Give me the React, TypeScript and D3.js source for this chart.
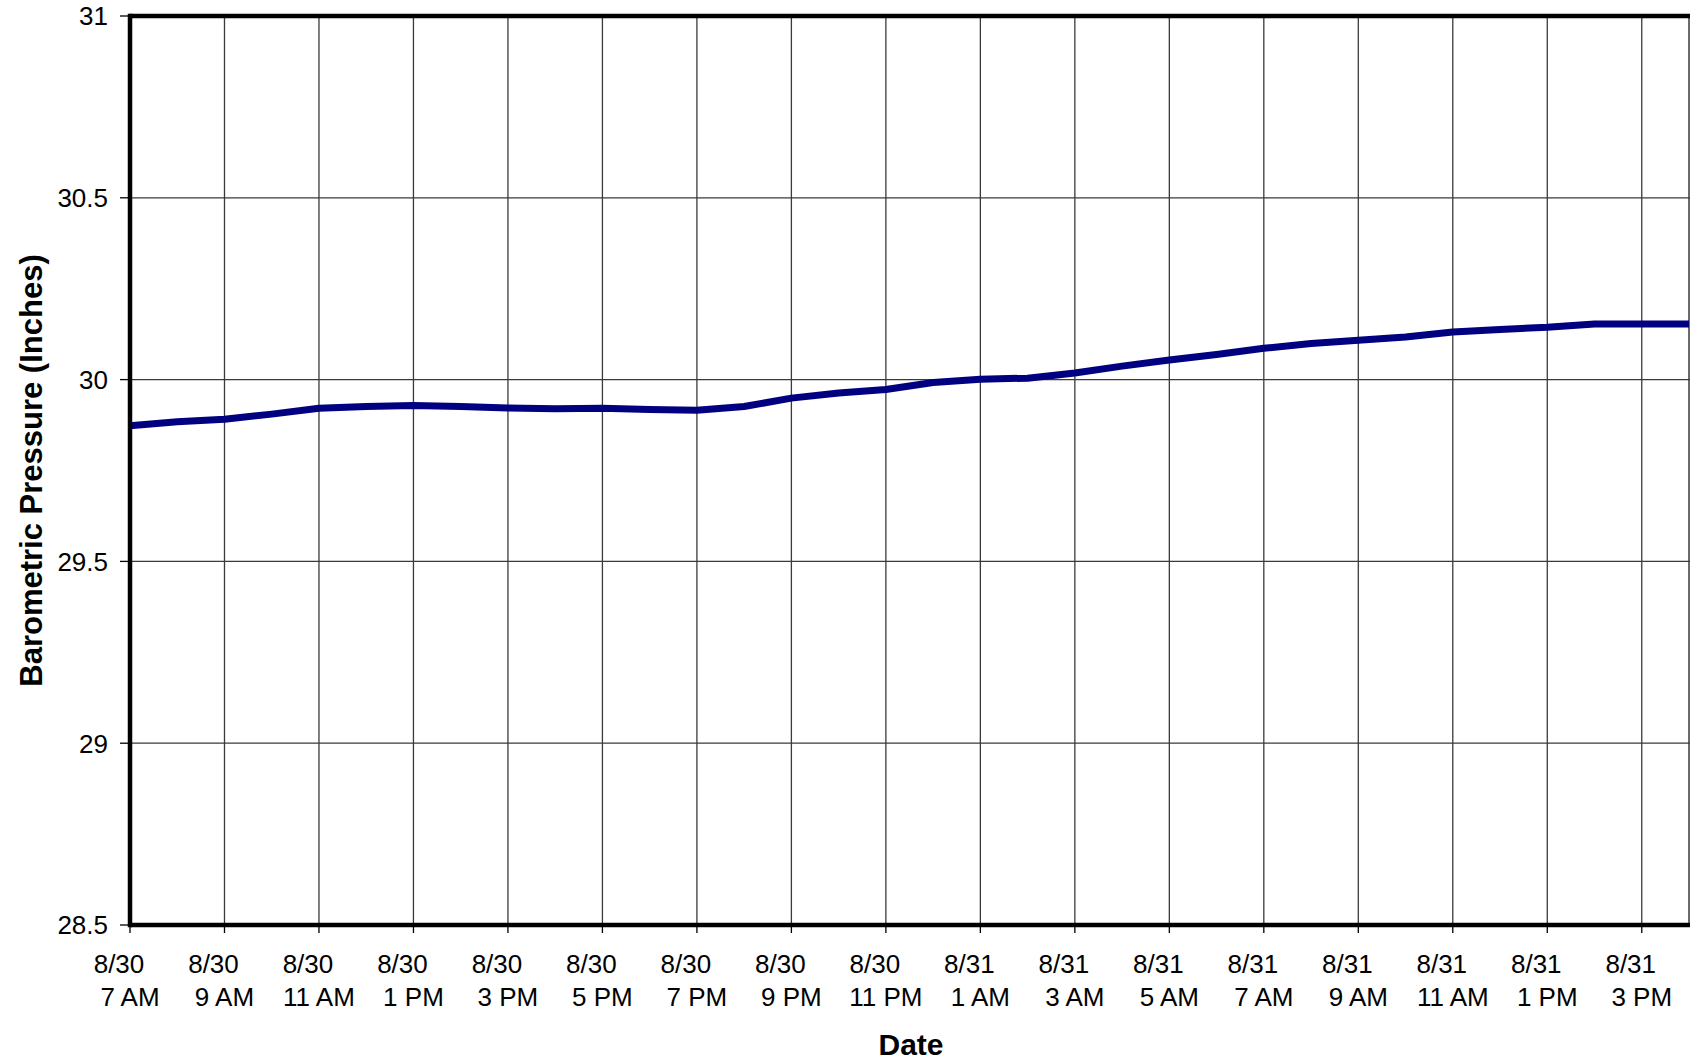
import React from "react";
import * as d3 from "d3";

// Hourly readings, 8/30 7 AM through 8/31 4 PM
const hourLabels = [
  "8/30 7 AM", "8/30 8 AM", "8/30 9 AM", "8/30 10 AM", "8/30 11 AM", "8/30 12 PM",
  "8/30 1 PM", "8/30 2 PM", "8/30 3 PM", "8/30 4 PM", "8/30 5 PM", "8/30 6 PM",
  "8/30 7 PM", "8/30 8 PM", "8/30 9 PM", "8/30 10 PM", "8/30 11 PM", "8/31 12 AM",
  "8/31 1 AM", "8/31 2 AM", "8/31 3 AM", "8/31 4 AM", "8/31 5 AM", "8/31 6 AM",
  "8/31 7 AM", "8/31 8 AM", "8/31 9 AM", "8/31 10 AM", "8/31 11 AM", "8/31 12 PM",
  "8/31 1 PM", "8/31 2 PM", "8/31 3 PM", "8/31 4 PM",
];

const pressure = [
  29.873, 29.884, 29.891, 29.905, 29.921, 29.926,
  29.929, 29.926, 29.922, 29.920, 29.921, 29.918,
  29.916, 29.926, 29.949, 29.963, 29.973, 29.992,
  30.001, 30.004, 30.018, 30.037, 30.054, 30.069,
  30.086, 30.099, 30.108, 30.117, 30.131, 30.138,
  30.144, 30.153, 30.153, 30.153,
];

// Labelled ticks every two hours: hour index, date line, time line
const tickIndex = [0, 2, 4, 6, 8, 10, 12, 14, 16, 18, 20, 22, 24, 26, 28, 30, 32];
const tickDate = [
  "8/30", "8/30", "8/30", "8/30", "8/30", "8/30", "8/30", "8/30", "8/30",
  "8/31", "8/31", "8/31", "8/31", "8/31", "8/31", "8/31", "8/31",
];
const tickTime = [
  "7 AM", "9 AM", "11 AM", "1 PM", "3 PM", "5 PM", "7 PM", "9 PM", "11 PM",
  "1 AM", "3 AM", "5 AM", "7 AM", "9 AM", "11 AM", "1 PM", "3 PM",
];

const yTicks = [28.5, 29, 29.5, 30, 30.5, 31];

const W = 1690;
const H = 1061;
const left = 130;
const right = 1689;
const top = 16;
const bottom = 925;
const FONT = "Arial, 'Liberation Sans', sans-serif";

export default function App() {
  const x = d3.scaleLinear().domain([0, hourLabels.length - 1]).range([left, right]);
  const y = d3.scaleLinear().domain([28.5, 31]).range([bottom, top]);

  const line = d3
    .line<number>()
    .x((_, i) => x(i))
    .y((d) => y(d));

  return (
    <svg
      width={W}
      height={H}
      style={{ position: "absolute", left: 0, top: 0, background: "#fff" }}
      fontFamily={FONT}
    >
      <rect x={0} y={0} width={W} height={H} fill="#fff" />

      {/* horizontal gridlines */}
      {yTicks.map((t) => (
        <line key={"gy" + t} x1={left} x2={W} y1={y(t)} y2={y(t)} stroke="#3a3a3a" strokeWidth={1.3} />
      ))}

      {/* vertical gridlines */}
      {tickIndex.map((i) => (
        <line key={"gx" + i} x1={x(i)} x2={x(i)} y1={top} y2={bottom} stroke="#3a3a3a" strokeWidth={1.3} />
      ))}
      <line x1={right} x2={right} y1={top} y2={bottom} stroke="#3a3a3a" strokeWidth={1.5} />

      {/* y ticks and labels */}
      {yTicks.map((t) => (
        <g key={"yt" + t}>
          <line x1={left - 10} x2={left} y1={y(t)} y2={y(t)} stroke="#000" strokeWidth={1.3} />
          <text x={108} y={y(t) + 9.3} textAnchor="end" fontSize={26} fill="#000">
            {d3.format("")(t)}
          </text>
        </g>
      ))}

      {/* x ticks and two-line labels */}
      {tickIndex.map((i, k) => (
        <g key={"xt" + i}>
          <line x1={x(i)} x2={x(i)} y1={bottom} y2={bottom + 8} stroke="#000" strokeWidth={1.3} />
          <text x={x(i) - 11} y={972.5} textAnchor="middle" fontSize={26} fill="#000">
            {tickDate[k]}
          </text>
          <text x={x(i)} y={1006} textAnchor="middle" fontSize={26} fill="#000">
            {tickTime[k]}
          </text>
        </g>
      ))}

      {/* pressure series */}
      <path
        d={line(pressure) ?? ""}
        fill="none"
        stroke="#000080"
        strokeWidth={7}
        strokeLinejoin="round"
      />

      {/* plot frame */}
      <line x1={left} x2={W} y1={top} y2={top} stroke="#000" strokeWidth={4.5} />
      <line x1={left} x2={W} y1={bottom} y2={bottom} stroke="#000" strokeWidth={4.5} />
      <line x1={left} x2={left} y1={top - 2.25} y2={bottom + 2.25} stroke="#000" strokeWidth={4.5} />

      {/* axis titles */}
      <text x={911} y={1055} textAnchor="middle" fontSize={30} fontWeight="bold" fill="#000">
        Date
      </text>
      <text
        transform={`translate(42, ${(top + bottom) / 2}) rotate(-90)`}
        textAnchor="middle"
        fontSize={31}
        fontWeight="bold"
        fill="#000"
      >
        Barometric Pressure (Inches)
      </text>
    </svg>
  );
}
